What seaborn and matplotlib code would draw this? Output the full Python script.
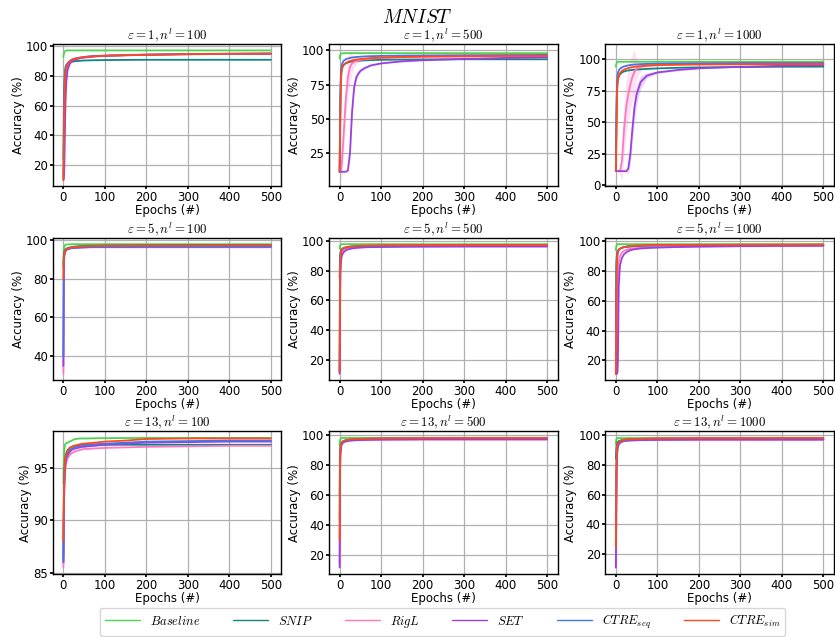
import matplotlib
matplotlib.use("Agg")
import matplotlib.pyplot as plt
import seaborn as sns
import pandas as pd
import numpy as np

# ---------------- data ----------------
EPOCHS = [0, 1, 2, 3, 4, 5, 7, 10, 15, 20, 25, 30, 35, 40, 45, 50, 60, 75, 100, 150, 200, 300, 400, 500]
METHODS = ["Baseline", "SNIP", "RigL", "SET", "CTRE_seq", "CTRE_sim"]
LABELS = [r"$Baseline$", r"$SNIP$", r"$RigL$", r"$SET$", r"$CTRE_{seq}$", r"$CTRE_{sim}$"]
COLORS = ["#4fd34f", "#138484", "#ff77c0", "#9b3fe0", "#4a72e6", "#ff4a1c"]
TITLES = [r"$\varepsilon = 1, n^l = 100$", r"$\varepsilon = 1, n^l = 500$", r"$\varepsilon = 1, n^l = 1000$",
          r"$\varepsilon = 5, n^l = 100$", r"$\varepsilon = 5, n^l = 500$", r"$\varepsilon = 5, n^l = 1000$",
          r"$\varepsilon = 13, n^l = 100$", r"$\varepsilon = 13, n^l = 500$", r"$\varepsilon = 13, n^l = 1000$"]
XTICKS = [0, 100, 200, 300, 400, 500]
YTICKS = [[20, 40, 60, 80, 100], [25, 50, 75, 100], [0, 25, 50, 75, 100],
          [40, 60, 80, 100], [20, 40, 60, 80, 100], [20, 40, 60, 80, 100],
          [85, 90, 95], [20, 40, 60, 80, 100], [20, 40, 60, 80, 100]]

# eps=1, n=100
e1_n100_baseline = [93, 95, 96, 96.5, 96.8, 97.0, 97.2, 97.3, 97.3, 97.3, 97.3, 97.3, 97.3, 97.3, 97.3, 97.3, 97.3, 97.3, 97.3, 97.3, 97.3, 97.3, 97.3, 97.3]
e1_n100_snip = [24, 55, 72, 80, 84, 86, 87.5, 88.5, 89.2, 89.6, 89.9, 90.1, 90.2, 90.3, 90.4, 90.5, 90.6, 90.7, 90.8, 90.9, 91.0, 91.0, 91.0, 91.0]
e1_n100_rigl = [10, 20, 40, 58, 70, 77, 83, 86.5, 89, 90.3, 91, 91.5, 91.9, 92.2, 92.4, 92.6, 92.9, 93.3, 93.7, 94.1, 94.4, 94.8, 95.0, 95.1]
e1_n100_set = [10, 11, 15, 30, 48, 62, 76, 84, 88, 89.8, 90.7, 91.3, 91.7, 92.0, 92.3, 92.5, 92.8, 93.2, 93.6, 94.0, 94.3, 94.7, 94.9, 95.0]
e1_n100_seq = [12, 35, 60, 74, 80, 83, 86.5, 88.5, 90.2, 91.1, 91.6, 92.0, 92.3, 92.5, 92.7, 92.9, 93.2, 93.5, 93.8, 94.2, 94.5, 94.9, 95.1, 95.3]
e1_n100_sim = [10, 30, 55, 70, 78, 82, 86, 88, 89.8, 90.8, 91.4, 91.8, 92.1, 92.4, 92.6, 92.8, 93.1, 93.4, 93.7, 94.1, 94.4, 94.8, 95.0, 95.1]

# eps=1, n=500
e1_n500_baseline = [94, 96, 97, 97.5, 97.7, 97.8, 97.9, 98, 98, 98, 98, 98, 98, 98, 98, 98, 98, 98, 98, 98, 98, 98, 98, 98]
e1_n500_snip = [11, 40, 65, 78, 84, 86, 88, 89.5, 90.5, 91.2, 91.6, 91.9, 92.1, 92.3, 92.4, 92.5, 92.7, 92.9, 93.1, 93.3, 93.4, 93.5, 93.5, 93.5]
e1_n500_rigl = [11, 11, 11, 12, 14, 16, 25, 40, 65, 80, 88, 90.5, 91.5, 92.2, 92.7, 93.0, 93.5, 94.0, 94.5, 95.0, 95.3, 95.6, 95.8, 96.0]
e1_n500_set = [11, 11, 11, 11, 11, 11, 11, 11, 11, 12, 25, 55, 73, 80, 83, 85, 87, 89, 90.5, 92, 92.8, 93.8, 94.5, 95.0]
e1_n500_seq = [11, 45, 70, 82, 87, 89, 91, 92.5, 93.5, 94.1, 94.5, 94.8, 95.0, 95.2, 95.3, 95.4, 95.6, 95.8, 96.0, 96.2, 96.3, 96.5, 96.6, 96.7]
e1_n500_sim = [11, 35, 60, 75, 82, 85, 88, 89.5, 90.8, 91.6, 92.2, 92.6, 93.0, 93.3, 93.5, 93.7, 94.0, 94.4, 94.8, 95.2, 95.5, 95.8, 96.0, 96.1]
e1_n500_rigl_sd = [0, 0, 0, 3, 9, 10, 12, 13, 14, 14, 12, 7, 4, 2.5, 1.5, 1, 0.6, 0.5, 0.4, 0.3, 0.3, 0.3, 0.3, 0.3]
e1_n500_set_sd = [0, 0, 0, 0, 0, 0, 0, 0, 0, 1, 4, 5, 3, 2, 1.5, 1, 0.8, 0.6, 0.5, 0.4, 0.3, 0.3, 0.3, 0.3]

# eps=1, n=1000
e1_n1000_baseline = [94, 96, 97, 97.6, 97.8, 98, 98, 98, 98, 98, 98, 98, 98, 98, 98, 98, 98, 98, 98, 98, 98, 98, 98, 98]
e1_n1000_snip = [11, 40, 65, 77, 82, 84, 86, 88, 89.5, 90.3, 90.8, 91.1, 91.3, 91.5, 91.7, 91.8, 92.0, 92.3, 92.7, 93.2, 93.5, 93.8, 94.0, 94.1]
e1_n1000_rigl = [11, 11, 11, 11, 11, 11, 11, 11, 20, 45, 62, 72, 80, 86, 90, 92.5, 94, 95, 95.5, 96, 96.2, 96.4, 96.5, 96.6]
e1_n1000_set = [11, 11, 11, 11, 11, 11, 11, 11, 11, 11, 11, 13, 25, 45, 62, 72, 82, 87, 89.5, 91.5, 92.8, 94.0, 94.8, 95.3]
e1_n1000_seq = [11, 45, 70, 82, 87, 89, 91, 92.5, 93.6, 94.3, 94.8, 95.1, 95.4, 95.6, 95.8, 95.9, 96.1, 96.3, 96.5, 96.7, 96.8, 97.0, 97.0, 97.0]
e1_n1000_sim = [11, 30, 55, 72, 80, 84, 87, 89, 90.8, 91.8, 92.5, 93.0, 93.4, 93.7, 94.0, 94.2, 94.5, 94.9, 95.3, 95.6, 95.8, 96.0, 96.1, 96.2]
e1_n1000_rigl_sd = [0, 0, 0, 0, 0, 0, 0, 3, 16, 20, 22, 22, 20, 19, 17, 8, 3, 1.5, 0.8, 0.5, 0.5, 0.4, 0.4, 0.4]
e1_n1000_set_sd = [0, 0, 0, 0, 0, 0, 0, 0, 0, 0, 1, 4, 8, 10, 10, 8, 5, 2, 1, 0.6, 0.5, 0.4, 0.4, 0.4]

# eps=5, n=100
e5_n100_baseline = [88, 95, 96.5, 97, 97.3, 97.5, 97.6, 97.7, 97.7, 97.8, 97.8, 97.8, 97.8, 97.8, 97.8, 97.8, 97.8, 97.8, 97.8, 97.8, 97.8, 97.8, 97.8, 97.8]
e5_n100_snip = [86, 92, 93.5, 94.3, 94.8, 95.1, 95.5, 95.8, 96.1, 96.3, 96.5, 96.6, 96.7, 96.8, 96.8, 96.9, 97.0, 97.0, 97.1, 97.2, 97.2, 97.3, 97.3, 97.3]
e5_n100_rigl = [31, 86, 91, 92.8, 93.6, 94.1, 94.7, 95.1, 95.5, 95.7, 95.8, 95.9, 96.0, 96.0, 96.1, 96.1, 96.1, 96.2, 96.2, 96.2, 96.2, 96.2, 96.2, 96.2]
e5_n100_set = [35, 87, 91.5, 93, 93.8, 94.3, 94.8, 95.2, 95.6, 95.8, 95.9, 96.0, 96.1, 96.1, 96.2, 96.2, 96.3, 96.3, 96.4, 96.4, 96.5, 96.5, 96.5, 96.5]
e5_n100_seq = [40, 88, 92, 93.3, 94, 94.4, 94.9, 95.3, 95.6, 95.8, 95.9, 96.0, 96.1, 96.1, 96.2, 96.2, 96.3, 96.3, 96.4, 96.4, 96.5, 96.5, 96.5, 96.5]
e5_n100_sim = [80, 90, 92.5, 93.5, 94.2, 94.6, 95.1, 95.5, 95.9, 96.1, 96.3, 96.4, 96.5, 96.6, 96.6, 96.7, 96.8, 96.9, 97.0, 97.0, 97.1, 97.1, 97.2, 97.2]

# eps=5, n=500
e5_n500_baseline = [95, 97, 97.5, 97.8, 97.9, 98, 98, 98, 98, 98, 98, 98, 98, 98, 98, 98, 98, 98, 98, 98, 98, 98, 98, 98]
e5_n500_snip = [75, 90, 92.5, 93.5, 94.2, 94.6, 95.1, 95.5, 95.9, 96.1, 96.3, 96.4, 96.5, 96.6, 96.6, 96.7, 96.8, 96.8, 96.9, 97.0, 97.0, 97.0, 97.0, 97.0]
e5_n500_rigl = [11, 70, 85, 89.5, 91.5, 92.5, 93.6, 94.4, 95.0, 95.3, 95.5, 95.6, 95.7, 95.8, 95.9, 95.9, 96.0, 96.1, 96.2, 96.3, 96.3, 96.4, 96.4, 96.4]
e5_n500_set = [10.5, 55, 78, 85, 88, 89.5, 91.3, 92.7, 93.8, 94.4, 94.8, 95.1, 95.3, 95.5, 95.6, 95.7, 95.9, 96.0, 96.1, 96.3, 96.4, 96.5, 96.5, 96.5]
e5_n500_seq = [12, 78, 88, 91.5, 93, 93.8, 94.6, 95.2, 95.7, 96.0, 96.2, 96.3, 96.4, 96.5, 96.6, 96.7, 96.8, 96.9, 97.0, 97.1, 97.2, 97.3, 97.3, 97.3]
e5_n500_sim = [12, 80, 89, 92, 93.3, 94, 94.8, 95.4, 95.9, 96.2, 96.4, 96.5, 96.6, 96.7, 96.8, 96.9, 97.0, 97.1, 97.2, 97.3, 97.4, 97.5, 97.5, 97.5]

# eps=5, n=1000
e5_n1000_baseline = [94, 96.5, 97.3, 97.7, 97.9, 98, 98, 98, 98, 98, 98, 98, 98, 98, 98, 98, 98, 98, 98, 98, 98, 98, 98, 98]
e5_n1000_snip = [40, 85, 90, 92, 93, 93.6, 94.4, 95, 95.6, 96, 96.2, 96.3, 96.4, 96.5, 96.6, 96.7, 96.8, 96.9, 97.0, 97.1, 97.2, 97.3, 97.3, 97.3]
e5_n1000_rigl = [11, 11, 12, 30, 60, 75, 86, 90, 92.5, 93.6, 94.2, 94.6, 94.9, 95.1, 95.3, 95.4, 95.6, 95.8, 96.0, 96.2, 96.4, 96.6, 96.7, 96.8]
e5_n1000_set = [11, 11, 11, 11, 12, 20, 70, 84, 89, 91.3, 92.5, 93.3, 93.9, 94.3, 94.6, 94.8, 95.1, 95.4, 95.7, 96.1, 96.4, 96.7, 96.9, 97.0]
e5_n1000_seq = [11, 55, 80, 88, 91, 92.5, 94, 94.9, 95.6, 96.0, 96.3, 96.5, 96.6, 96.7, 96.8, 96.9, 97.0, 97.1, 97.2, 97.3, 97.4, 97.5, 97.5, 97.5]
e5_n1000_sim = [11, 60, 82, 89, 91.5, 92.8, 94.2, 95.0, 95.7, 96.1, 96.4, 96.6, 96.7, 96.8, 96.9, 97.0, 97.1, 97.3, 97.4, 97.5, 97.6, 97.7, 97.7, 97.8]

# eps=13, n=100
e13_n100_baseline = [93.5, 95.5, 96.5, 97.0, 97.2, 97.3, 97.35, 97.4, 97.5, 97.6, 97.7, 97.75, 97.78, 97.8, 97.8, 97.8, 97.8, 97.82, 97.83, 97.84, 97.85, 97.85, 97.85, 97.85]
e13_n100_snip = [86.5, 92, 94.3, 95.3, 95.8, 96.1, 96.4, 96.7, 96.9, 97.0, 97.05, 97.1, 97.1, 97.15, 97.15, 97.2, 97.2, 97.2, 97.2, 97.2, 97.2, 97.2, 97.2, 97.2]
e13_n100_rigl = [85.5, 90, 92.5, 93.8, 94.5, 95.0, 95.5, 95.9, 96.2, 96.4, 96.5, 96.6, 96.65, 96.7, 96.75, 96.8, 96.8, 96.85, 96.9, 96.95, 97.0, 97.05, 97.1, 97.1]
e13_n100_set = [86, 90.5, 93, 94.3, 95, 95.4, 95.9, 96.2, 96.5, 96.7, 96.8, 96.85, 96.9, 96.95, 97.0, 97.0, 97.05, 97.1, 97.2, 97.3, 97.4, 97.45, 97.5, 97.5]
e13_n100_seq = [86, 91, 93.5, 94.7, 95.3, 95.7, 96.1, 96.4, 96.7, 96.8, 96.9, 97.0, 97.05, 97.1, 97.1, 97.15, 97.2, 97.25, 97.3, 97.4, 97.5, 97.55, 97.6, 97.6]
e13_n100_sim = [88, 92, 94.0, 95.0, 95.6, 96.0, 96.3, 96.6, 96.9, 97.0, 97.1, 97.15, 97.2, 97.25, 97.3, 97.3, 97.35, 97.4, 97.5, 97.6, 97.75, 97.8, 97.8, 97.8]

# eps=13, n=500
e13_n500_baseline = [93, 96.5, 97.3, 97.6, 97.8, 97.9, 98, 98, 98, 98, 98, 98, 98, 98, 98, 98, 98, 98, 98, 98, 98, 98, 98, 98]
e13_n500_snip = [60, 88, 92, 93.8, 94.6, 95.1, 95.6, 96.0, 96.4, 96.6, 96.7, 96.8, 96.9, 96.9, 97.0, 97.0, 97.1, 97.1, 97.2, 97.3, 97.3, 97.4, 97.4, 97.4]
e13_n500_rigl = [15, 80, 89, 92, 93.3, 94, 94.8, 95.4, 95.9, 96.1, 96.3, 96.4, 96.5, 96.5, 96.6, 96.6, 96.7, 96.7, 96.8, 96.8, 96.9, 96.9, 96.9, 96.9]
e13_n500_set = [12, 75, 87, 91, 92.5, 93.4, 94.4, 95.1, 95.7, 96.0, 96.2, 96.3, 96.4, 96.5, 96.5, 96.6, 96.7, 96.8, 96.9, 97.0, 97.1, 97.1, 97.1, 97.1]
e13_n500_seq = [44, 86, 91, 93, 94, 94.6, 95.3, 95.9, 96.4, 96.7, 96.9, 97.0, 97.1, 97.2, 97.2, 97.3, 97.4, 97.5, 97.6, 97.7, 97.8, 97.8, 97.8, 97.8]
e13_n500_sim = [30, 85, 91, 93, 94, 94.7, 95.4, 96.0, 96.5, 96.8, 97.0, 97.1, 97.2, 97.3, 97.3, 97.4, 97.5, 97.6, 97.7, 97.8, 97.9, 98.0, 98.0, 98.0]

# eps=13, n=1000
e13_n1000_baseline = [94, 97, 97.6, 97.8, 97.9, 98, 98, 98, 98, 98, 98, 98, 98, 98, 98, 98, 98, 98, 98, 98, 98, 98, 98, 98]
e13_n1000_snip = [84, 91, 93.5, 94.5, 95.1, 95.5, 96, 96.3, 96.6, 96.8, 96.9, 97.0, 97.0, 97.1, 97.1, 97.1, 97.2, 97.2, 97.3, 97.3, 97.4, 97.4, 97.4, 97.4]
e13_n1000_rigl = [11, 50, 80, 88, 91, 92.5, 94, 95, 95.7, 96.0, 96.2, 96.3, 96.4, 96.4, 96.5, 96.5, 96.6, 96.6, 96.7, 96.7, 96.8, 96.8, 96.8, 96.8]
e13_n1000_set = [11, 40, 75, 86, 90, 92, 93.7, 94.8, 95.6, 96.0, 96.2, 96.3, 96.4, 96.5, 96.5, 96.6, 96.7, 96.7, 96.8, 96.9, 97.0, 97.0, 97.0, 97.0]
e13_n1000_seq = [25, 72, 87, 91.5, 93.3, 94.2, 95.1, 95.8, 96.4, 96.7, 96.9, 97.0, 97.1, 97.2, 97.3, 97.3, 97.4, 97.5, 97.6, 97.7, 97.8, 97.8, 97.8, 97.8]
e13_n1000_sim = [25, 75, 88, 92, 93.6, 94.4, 95.3, 96.0, 96.6, 96.9, 97.1, 97.2, 97.3, 97.4, 97.4, 97.5, 97.6, 97.7, 97.8, 97.9, 98.0, 98.0, 98.1, 98.1]

PANELS = [
    [e1_n100_baseline, e1_n100_snip, e1_n100_rigl, e1_n100_set, e1_n100_seq, e1_n100_sim],
    [e1_n500_baseline, e1_n500_snip, e1_n500_rigl, e1_n500_set, e1_n500_seq, e1_n500_sim],
    [e1_n1000_baseline, e1_n1000_snip, e1_n1000_rigl, e1_n1000_set, e1_n1000_seq, e1_n1000_sim],
    [e5_n100_baseline, e5_n100_snip, e5_n100_rigl, e5_n100_set, e5_n100_seq, e5_n100_sim],
    [e5_n500_baseline, e5_n500_snip, e5_n500_rigl, e5_n500_set, e5_n500_seq, e5_n500_sim],
    [e5_n1000_baseline, e5_n1000_snip, e5_n1000_rigl, e5_n1000_set, e5_n1000_seq, e5_n1000_sim],
    [e13_n100_baseline, e13_n100_snip, e13_n100_rigl, e13_n100_set, e13_n100_seq, e13_n100_sim],
    [e13_n500_baseline, e13_n500_snip, e13_n500_rigl, e13_n500_set, e13_n500_seq, e13_n500_sim],
    [e13_n1000_baseline, e13_n1000_snip, e13_n1000_rigl, e13_n1000_set, e13_n1000_seq, e13_n1000_sim],
]
BANDS = {
    (1, "RigL"): e1_n500_rigl_sd, (1, "SET"): e1_n500_set_sd,
    (2, "RigL"): e1_n1000_rigl_sd, (2, "SET"): e1_n1000_set_sd,
}

# ---------------- style ----------------
sns.set_theme(style="whitegrid")
plt.rcParams.update({
    "font.family": ["DejaVu Sans"],
    "mathtext.fontset": "cm",
    "axes.edgecolor": "black",
    "axes.linewidth": 1.0,
    "grid.color": "#b0b0b0",
    "grid.linewidth": 0.9,
    "xtick.bottom": True,
    "ytick.left": True,
    "xtick.major.size": 2.5,
    "ytick.major.size": 2.5,
    "xtick.color": "black",
    "ytick.color": "black",
    "xtick.labelsize": 8.5,
    "ytick.labelsize": 8.5,
    "axes.labelsize": 8.5,
    "axes.labelcolor": "black",
    "text.color": "black",
})

fig, axes = plt.subplots(3, 3, figsize=(8.35, 6.37), dpi=100)
fig.subplots_adjust(left=0.0635, right=0.9985, top=0.931, bottom=0.099, wspace=0.21, hspace=0.36)

for p, ax in enumerate(axes.flat):
    series = PANELS[p]
    for m, (name, vals, col) in enumerate(zip(METHODS, series, COLORS)):
        df = pd.DataFrame({"epoch": EPOCHS, "acc": vals})
        key = (p, name)
        if key in BANDS:
            sd = np.array(BANDS[key])
            v = np.array(vals)
            ax.fill_between(EPOCHS, v - sd, v + sd, color=col, alpha=0.22, linewidth=0)
        sns.lineplot(data=df, x="epoch", y="acc", ax=ax, color=col, linewidth=1.3, label=None)
    ax.set_title(TITLES[p], fontsize=9.3, pad=0)
    ax.set_xlabel("Epochs (#)", labelpad=0)
    ax.set_ylabel("Accuracy (%)", labelpad=1)
    ax.set_xticks(XTICKS)
    ax.set_yticks(YTICKS[p])
    ax.tick_params(axis="both", pad=1.0)
    for s in ax.spines.values():
        s.set_color("black")

fig.suptitle(r"$MNIST$", fontsize=14, y=0.987)

handles = [plt.Line2D([], [], color=c, linewidth=1.0) for c in COLORS]
leg = fig.legend(handles, LABELS, loc="lower center", bbox_to_anchor=(0.53, -0.008), ncol=6,
                 fontsize=9, handlelength=2.8, columnspacing=2.6, frameon=True, fancybox=True,
                 edgecolor="#cccccc", borderpad=0.4)

fig.savefig("out.png", dpi=100)
